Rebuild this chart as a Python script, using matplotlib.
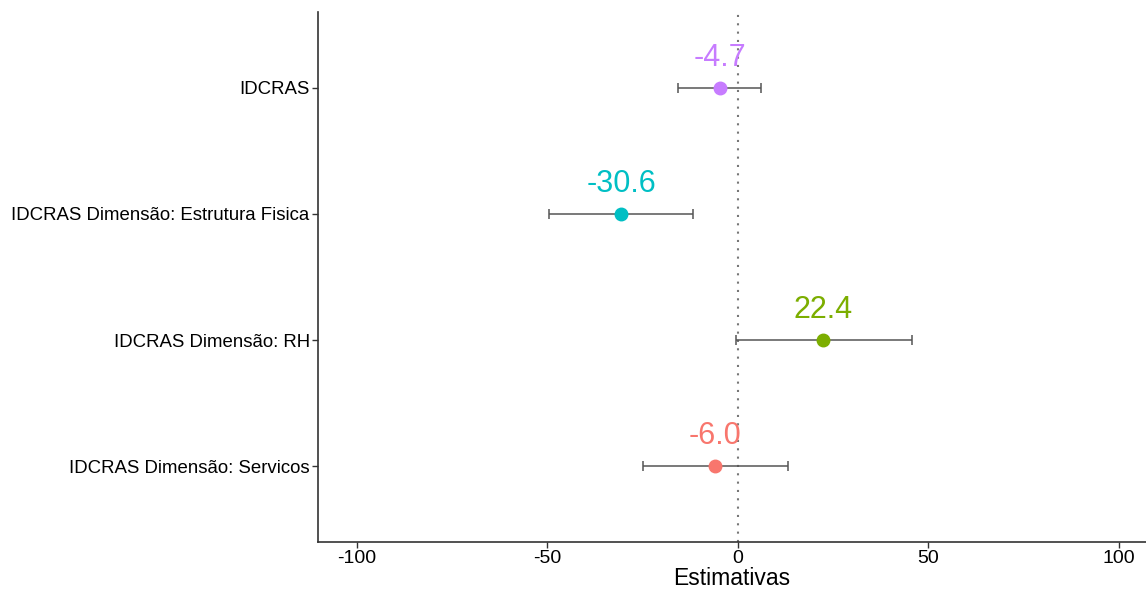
import matplotlib.pyplot as plt

plt.rcParams['font.family'] = ['Liberation Sans', 'DejaVu Sans']

# data (bottom to top)
labels = ['IDCRAS Dimensão: Servicos', 'IDCRAS Dimensão: RH',
          'IDCRAS Dimensão: Estrutura Fisica', 'IDCRAS']
estimates = [-6.0, 22.4, -30.6, -4.7]
lower = [-24.9, -0.6, -49.6, -15.6]
upper = [13.1, 45.6, -11.9, 6.0]
colors = ['#F8766D', '#7CAE00', '#00BFC4', '#C77CFF']
xticks = [-100, -50, 0, 50, 100]

fig = plt.figure(figsize=(11.46, 5.91), dpi=100)
ax = fig.add_axes([318 / 1146, 49 / 591, 828 / 1146, 530 / 591])

ax.axvline(0, color='#777777', linestyle=(0, (1, 3)), linewidth=1.5, zorder=1)

for i, (est, lo, hi, c) in enumerate(zip(estimates, lower, upper, colors)):
    y = i + 1
    ax.errorbar(est, y, xerr=[[est - lo], [hi - est]], fmt='none',
                ecolor='#555555', elinewidth=1.1, capsize=3.5, capthick=1.1, zorder=2)
    ax.plot(est, y, 'o', color=c, markersize=9, zorder=3)
    ax.text(est, y + 0.175, f'{est:.1f}', color=c, fontsize=22,
            ha='center', va='baseline')

ax.set_yticks(range(1, len(labels) + 1))
ax.set_yticklabels(labels, fontsize=13.4)
ax.set_xticks(xticks)
ax.set_xticklabels([str(t) for t in xticks], fontsize=14)
ax.set_xlim(-110.2, 107.1)
ax.set_ylim(0.4, 4.6)
ax.set_xlabel('Estimativas', fontsize=16.5, labelpad=0)

for s in ['top', 'right']:
    ax.spines[s].set_visible(False)
for s in ['left', 'bottom']:
    ax.spines[s].set_color('#333333')
    ax.spines[s].set_linewidth(1.2)
ax.tick_params(axis='both', color='#333333', length=4, width=1, labelcolor='black')
ax.tick_params(axis='x', pad=2)
ax.tick_params(axis='y', pad=2)

fig.savefig('out.png', dpi=100)
